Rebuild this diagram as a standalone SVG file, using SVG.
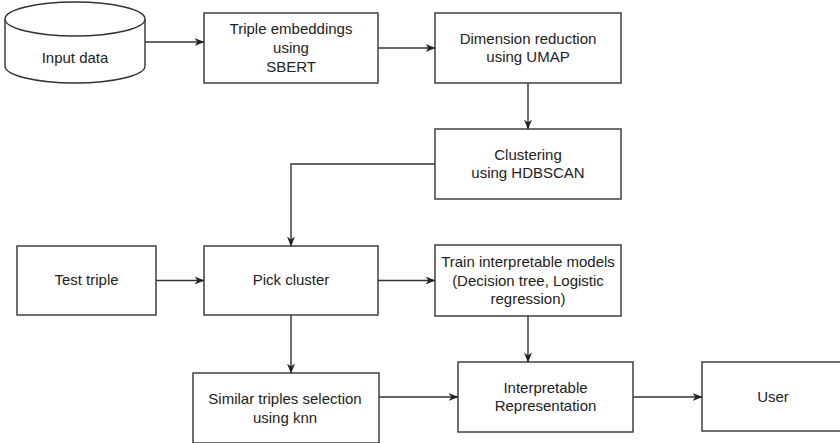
<svg xmlns="http://www.w3.org/2000/svg" width="840" height="443" viewBox="0 0 840 443">
  <style>
    .box { fill: #ffffff; stroke: #333333; stroke-width: 1.4; }
    .lbl { font-family: "Liberation Sans", Arial, sans-serif; font-size: 15px; fill: #222222; text-anchor: middle; }
    .edge { fill: none; stroke: #333333; stroke-width: 1.4; marker-end: url(#arrow); }
  </style>
  <defs>
    <marker id="arrow" viewBox="0 0 10 10" refX="9.5" refY="5" markerWidth="10" markerHeight="10" markerUnits="userSpaceOnUse" orient="auto">
      <path d="M0,1 L10,5 L0,9 L3,5 Z" fill="#222222"/>
    </marker>
  </defs>
  <rect width="840" height="443" fill="#ffffff"/>

  <g id="input-data">
    <path class="box" d="M5,19 A70,17 0 0 1 145,19 L145,66 A70,17 0 0 1 5,66 Z"/>
    <path class="box" fill="none" d="M5,19 A70,17 0 0 0 145,19"/>
    <text class="lbl" x="75" y="63">Input data</text>
  </g>

  <g id="triple-embeddings">
    <rect class="box" x="204" y="13" width="174" height="70"/>
    <text class="lbl" x="291" y="34">Triple embeddings</text>
    <text class="lbl" x="291" y="53">using</text>
    <text class="lbl" x="291" y="72">SBERT</text>
  </g>

  <g id="dimension-reduction">
    <rect class="box" x="435" y="13" width="186" height="70"/>
    <text class="lbl" x="528" y="44">Dimension reduction</text>
    <text class="lbl" x="528" y="62">using UMAP</text>
  </g>

  <g id="clustering">
    <rect class="box" x="435" y="129" width="186" height="70"/>
    <text class="lbl" x="528" y="160">Clustering</text>
    <text class="lbl" x="528" y="178">using HDBSCAN</text>
  </g>

  <g id="test-triple">
    <rect class="box" x="17" y="246" width="139" height="69"/>
    <text class="lbl" x="86.5" y="285">Test triple</text>
  </g>

  <g id="pick-cluster">
    <rect class="box" x="204" y="246" width="174" height="69"/>
    <text class="lbl" x="291" y="285">Pick cluster</text>
  </g>

  <g id="train-models">
    <rect class="box" x="435" y="245" width="186" height="71"/>
    <text class="lbl" x="528" y="267">Train interpretable models</text>
    <text class="lbl" x="528" y="286">(Decision tree, Logistic</text>
    <text class="lbl" x="528" y="304">regression)</text>
  </g>

  <g id="similar-triples">
    <rect class="box" x="193" y="373" width="186" height="70"/>
    <text class="lbl" x="285" y="404">Similar triples selection</text>
    <text class="lbl" x="285" y="423">using knn</text>
  </g>

  <g id="interpretable-representation">
    <rect class="box" x="458" y="362" width="175" height="70"/>
    <text class="lbl" x="545.5" y="393">Interpretable</text>
    <text class="lbl" x="545.5" y="411">Representation</text>
  </g>

  <g id="user">
    <rect class="box" x="702" y="362" width="142" height="69"/>
    <text class="lbl" x="773" y="402">User</text>
  </g>

  <g id="connectors">
    <path class="edge" d="M145,42 L204,42"/>
    <path class="edge" d="M378,48 L435,48"/>
    <path class="edge" d="M528,83 L528,129"/>
    <path class="edge" d="M435,164 L291,164 L291,246"/>
    <path class="edge" d="M156,280.5 L204,280.5"/>
    <path class="edge" d="M378,280.5 L435,280.5"/>
    <path class="edge" d="M528,316 L528,362"/>
    <path class="edge" d="M291,315 L291,373"/>
    <path class="edge" d="M379,397 L458,397"/>
    <path class="edge" d="M633,397 L702,397"/>
  </g>
</svg>
